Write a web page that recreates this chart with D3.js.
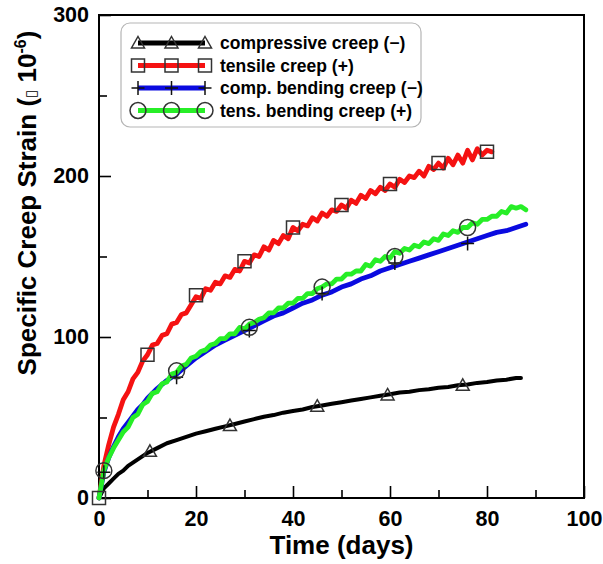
<!DOCTYPE html>
<html>
<head>
<meta charset="utf-8">
<script src="https://cdn.jsdelivr.net/npm/d3@7"></script>
<style>
  body { margin: 0; background: #fff; }
  svg { display: block; font-family: "Liberation Sans", Arial, sans-serif; }
</style>
</head>
<body>
<svg id="chart" width="603" height="564"></svg>
<script>
// readings taken off the curves, one value per day (black every 1-2 days)
const tensileDays = d3.range(0, 82);
const tensile = [0, 20, 33, 44, 52, 61, 66, 74, 78, 85,
  89, 95, 96, 101, 102, 108, 109, 114, 115, 120,
  125, 124, 130, 129, 134, 133, 138, 137, 142, 141,
  147, 146, 151, 150, 156, 154, 160, 158, 163, 161,
  168, 166, 170, 169, 174, 172, 177, 175, 179, 178,
  182, 180, 185, 183, 188, 186, 191, 189, 193, 191,
  195, 193, 198, 196, 200, 199, 203, 200, 206, 204,
  208, 205, 211, 207, 213, 208, 216, 210, 217, 213,
  216, 215];

const tensBendDays = d3.range(0, 89);
const tensBend = [0, 17, 25, 31, 36, 41, 44, 50, 52, 58,
  60, 65, 66, 71, 72, 77, 78, 82, 83, 87,
  88, 91, 92, 95, 96, 99, 99, 102, 102, 106,
  105, 108, 109, 111, 112, 115, 115, 118, 118, 121,
  121, 124, 124, 127, 127, 130, 131, 133, 133, 136,
  136, 139, 139, 141, 141, 145, 144, 148, 147, 150,
  149, 153, 152, 155, 154, 157, 156, 159, 158, 161,
  160, 164, 163, 166, 165, 168, 168, 171, 170, 173,
  173, 175, 175, 178, 177, 181, 180, 181, 179];

const compBendDays = [0, 1, 2, 3, 4, 5, 6, 7, 8, 9, 10, 12, 14, 16, 18, 20, 22, 24, 26, 28,
  30, 32, 34, 36, 38, 40, 42, 44, 46, 48, 50, 52, 54, 56, 58, 60, 62, 64, 66, 68,
  70, 72, 74, 76, 78, 80, 82, 84, 86, 88];
const compBend = [0, 16, 25, 32, 38, 43, 47, 51, 55, 58, 62, 68, 73, 77, 82, 87, 91, 95, 98, 101,
  104, 107, 110, 113, 115, 118, 121, 123, 126, 128, 131, 133, 136, 138, 141, 143, 145, 147, 149, 151,
  153, 155, 157, 159, 161, 163, 165, 166, 168, 170];

const compressiveDays = [0, 1, 2, 3, 4, 5, 6, 7, 8, 10, 12, 14, 16, 18, 20, 22, 24, 26, 28,
  30, 32, 34, 36, 38, 40, 42, 44, 46, 48, 50, 52, 54, 56, 58, 60, 62, 64, 66, 68,
  70, 72, 74, 76, 78, 80, 82, 84, 86, 87];
const compressive = [0, 6, 9, 12, 15, 17, 20, 22, 24, 28, 31, 34, 36, 38, 40, 41.5, 43, 44.5, 46,
  47.5, 49, 50.5, 51.5, 53, 54, 55, 56.5, 57.5, 58.5, 59.5, 60.5, 61.5, 62.5, 63.5, 64.5, 65.5, 66, 67, 67.5,
  68.5, 69, 70, 70.5, 71.5, 72, 73, 73.5, 74.5, 74.5];

// marker positions [day, value]
const compressiveMarks = [[10.5, 29], [27, 45], [45, 57], [59.5, 64], [75, 70]];
const tensileMarks = [[0, 0], [10, 89], [20, 126], [30, 147], [40, 168], [50, 182], [60, 195], [70, 208], [80, 215]];
const compBendMarks = [[1, 16], [16, 75], [31, 104], [46, 127], [61, 146], [76, 158]];
const tensBendMarks = [[1, 17], [16, 79], [31, 106], [46, 131], [61, 150], [76, 168]];

const seriesNames = ["compressive creep (\u2212)", "tensile creep (+)", "comp. bending creep (\u2212)", "tens. bending creep (+)"];
const seriesColors = ["#000000", "#f51212", "#0a0ae0", "#27ee27"];
const seriesMarkers = ["triangle", "square", "plus", "circle"];

const xTicks = [0, 20, 40, 60, 80, 100];
const xMinorTicks = [10, 30, 50, 70, 90];
const yTicks = [0, 100, 200, 300];
const yMinorTicks = [50, 150, 250];

const plotLeft = 99, plotRight = 584, plotTop = 15, plotBottom = 498;

const svg = d3.select("#chart");
const x = d3.scaleLinear().domain([0, 100]).range([plotLeft, plotRight]);
const y = d3.scaleLinear().domain([0, 300]).range([plotBottom, plotTop]);

// axes, ticks inward
const xMinor = svg.append("g").attr("transform", `translate(0,${plotBottom})`)
  .call(d3.axisBottom(x).tickValues(xMinorTicks).tickSize(-8).tickFormat(""));
const xMajor = svg.append("g").attr("transform", `translate(0,${plotBottom})`)
  .call(d3.axisBottom(x).tickValues(xTicks).tickSize(-12).tickPadding(13).tickFormat(d3.format("d")));
const yMinor = svg.append("g").attr("transform", `translate(${plotLeft},0)`)
  .call(d3.axisLeft(y).tickValues(yMinorTicks).tickSize(-8).tickFormat(""));
const yMajor = svg.append("g").attr("transform", `translate(${plotLeft},0)`)
  .call(d3.axisLeft(y).tickValues(yTicks).tickSize(-12).tickPadding(10).tickFormat(d3.format("d")));

[xMinor, xMajor, yMinor, yMajor].forEach(a => {
  a.select(".domain").remove();
  a.selectAll(".tick line").attr("stroke", "#000").attr("stroke-width", 1.6);
  a.selectAll(".tick text")
    .attr("fill", "#000")
    .attr("font-size", 21.5)
    .attr("font-weight", "bold")
    .attr("font-family", "Liberation Sans, Arial, sans-serif");
});

svg.append("rect")
  .attr("x", plotLeft).attr("y", plotTop)
  .attr("width", plotRight - plotLeft).attr("height", plotBottom - plotTop)
  .attr("fill", "none").attr("stroke", "#000").attr("stroke-width", 2);

// curves
const line = d3.line().x(d => x(d[0])).y(d => y(d[1]));
const curves = [
  d3.zip(compressiveDays, compressive),
  d3.zip(tensileDays, tensile),
  d3.zip(compBendDays, compBend),
  d3.zip(tensBendDays, tensBend)
];
const marks = [compressiveMarks, tensileMarks, compBendMarks, tensBendMarks];

curves.forEach((c, i) => {
  svg.append("path")
    .datum(c)
    .attr("d", line)
    .attr("fill", "none")
    .attr("stroke", seriesColors[i])
    .attr("stroke-width", i === 0 ? 4 : 4.8)
    .attr("stroke-linejoin", "round")
    .attr("stroke-linecap", "round");
});

function markerPath(kind) {
  if (kind === "triangle") return "M0,-6.5L6.5,5L-6.5,5Z";
  if (kind === "square") return "M-6.5,-6.5H6.5V6.5H-6.5Z";
  if (kind === "plus") return "M-6.5,0H6.5M0,-7V7";
  return d3.symbol(d3.symbolCircle, 200)();
}

function drawMarker(g, kind, cx, cy) {
  g.append("path")
    .attr("d", markerPath(kind))
    .attr("transform", `translate(${cx},${cy})`)
    .attr("fill", "none")
    .attr("stroke", kind === "plus" ? "#111" : "#333")
    .attr("stroke-width", 1.5);
}

marks.forEach((m, i) => {
  m.forEach(d => drawMarker(svg, seriesMarkers[i], x(d[0]), y(d[1])));
});

// legend
const legend = svg.append("g");
legend.append("rect")
  .attr("x", 121).attr("y", 23)
  .attr("width", 300).attr("height", 104)
  .attr("rx", 9)
  .attr("fill", "#fff")
  .attr("stroke", "#b5b5b5")
  .attr("stroke-width", 1.2);

seriesNames.forEach((name, i) => {
  const ly = 43 + i * 22.5;
  legend.append("line")
    .attr("x1", 138).attr("x2", 205)
    .attr("y1", ly).attr("y2", ly)
    .attr("stroke", seriesColors[i])
    .attr("stroke-width", 4.8);
  [138, 171.5, 205].forEach(mx => drawMarker(legend, seriesMarkers[i], mx, ly));
  legend.append("text")
    .attr("x", 220).attr("y", ly + 6)
    .attr("font-size", 17.5)
    .attr("font-weight", "bold")
    .text(name);
});

// axis titles
svg.append("text")
  .attr("x", (plotLeft + plotRight) / 2).attr("y", 554)
  .attr("text-anchor", "middle")
  .attr("font-size", 26)
  .attr("font-weight", "bold")
  .text("Time (days)");

const yTitle = svg.append("text")
  .attr("transform", "translate(36,203) rotate(-90)")
  .attr("text-anchor", "middle")
  .attr("font-size", 26)
  .attr("font-weight", "bold");
yTitle.append("tspan").text("Specific Creep Strain (");
yTitle.append("tspan").attr("font-size", 15).attr("font-weight", "normal").attr("font-family", "DejaVu Sans").text("\u25AF");
yTitle.append("tspan").text(" 10");
yTitle.append("tspan").attr("font-size", 16).attr("dy", -10).text("-6");
yTitle.append("tspan").attr("dy", 10).text(")");
</script>
</body>
</html>
